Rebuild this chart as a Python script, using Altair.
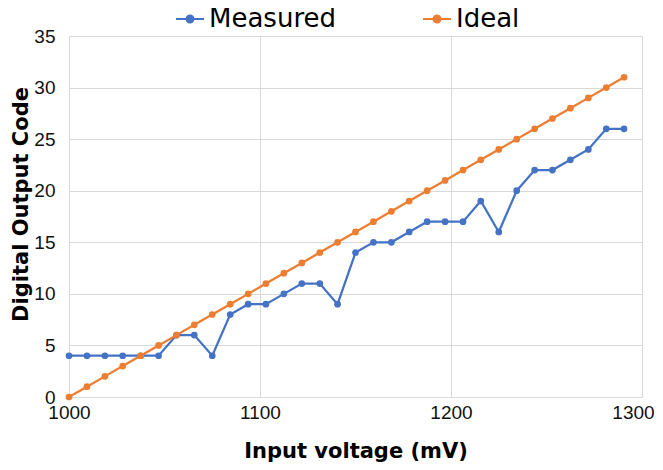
import altair as alt
import pandas as pd

voltage = [1000, 1009.4, 1018.8, 1028.1, 1037.5, 1046.9, 1056.3, 1065.6,
           1075, 1084.4, 1093.8, 1103.1, 1112.5, 1121.9, 1131.3, 1140.6,
           1150, 1159.4, 1168.8, 1178.1, 1187.5, 1196.9, 1206.3, 1215.6,
           1225, 1234.4, 1243.8, 1253.1, 1262.5, 1271.9, 1281.3, 1290.6]
measured = [4, 4, 4, 4, 4, 4, 6, 6, 4, 8, 9, 9, 10, 11, 11, 9,
            14, 15, 15, 16, 17, 17, 17, 19, 16, 20, 22, 22, 23, 24, 26, 26]
ideal = [0, 1, 2, 3, 4, 5, 6, 7, 8, 9, 10, 11, 12, 13, 14, 15,
         16, 17, 18, 19, 20, 21, 22, 23, 24, 25, 26, 27, 28, 29, 30, 31]
series_names = ["Measured", "Ideal"]
series_colors = ["#4472C4", "#ED7D31"]
legend_x = [106, 353]
x_ticks = [1000, 1100, 1200, 1300]
y_ticks = [0, 5, 10, 15, 20, 25, 30, 35]

x = alt.X("v:Q",
          scale=alt.Scale(domain=[1000, 1300], nice=False, zero=False),
          axis=alt.Axis(values=x_ticks, title="Input voltage (mV)", format="d",
                        labelOffset={"condition": {"test": "datum.value == 1300", "value": -9},
                                     "value": 0},
                        labelFont="Liberation Sans", labelFontSize=19, labelColor="#111",
                        labelPadding=6, labelFlush=False, ticks=False, domainColor="#D9D9D9",
                        gridColor="#D9D9D9", titleFont="DejaVu Sans", titleFontWeight="bold",
                        titleFontSize=21, titleColor="#000", titleY=54, titleBaseline="middle"))
y = alt.Y("code:Q",
          scale=alt.Scale(domain=[0, 35], nice=False),
          axis=alt.Axis(values=y_ticks, title="Digital Output Code",
                        labelFont="Liberation Sans", labelFontSize=19, labelColor="#111",
                        labelPadding=14, labelFlush=False, ticks=False, domain=False,
                        gridColor="#D9D9D9", titleFont="DejaVu Sans", titleFontWeight="bold",
                        titleFontSize=21, titleColor="#000", titleX=-48, titleY=168,
                        titleAngle=270, titleBaseline="middle", titleAlign="center"))

SYMBOL = "M-1,0H1M0.25,0A0.25,0.25,0,1,1,-0.25,0A0.25,0.25,0,1,1,0.25,0Z"

layers = []
for name, vals, col, lx in zip(series_names, [measured, ideal], series_colors, legend_x):
    df = pd.DataFrame({"v": voltage, "code": vals, "series": name})
    cscale = alt.Scale(domain=[name], range=[col])
    legend = alt.Legend(
        orient="none", legendX=lx, legendY=-32, direction="horizontal", title=None,
        labelFont="DejaVu Sans", labelFontSize=26, labelColor="#000", labelOffset=4,
        padding=0, symbolSize=784, symbolStrokeWidth=2, symbolType=SYMBOL,
        symbolOpacity=1, symbolFillColor=col, symbolStrokeColor=col)
    color = alt.Color("series:N", scale=cscale, legend=legend)
    line = alt.Chart(df).mark_line(strokeWidth=2.25).encode(x=x, y=y, color=color)
    pts = alt.Chart(df).mark_circle(size=45, opacity=1).encode(x=x, y=y, color=color)
    layers.append(alt.layer(line, pts))

chart = alt.layer(*layers).resolve_scale(color="independent").resolve_legend(
    color="independent").properties(
    width=573, height=361,
    autosize=alt.AutoSizeParams(type="none"),
    padding={"left": 61, "top": 28, "right": 13, "bottom": 65},
).configure_view(stroke=None).configure(background="white")

chart.save("out.html", embed_options={"renderer": "svg", "actions": False})
